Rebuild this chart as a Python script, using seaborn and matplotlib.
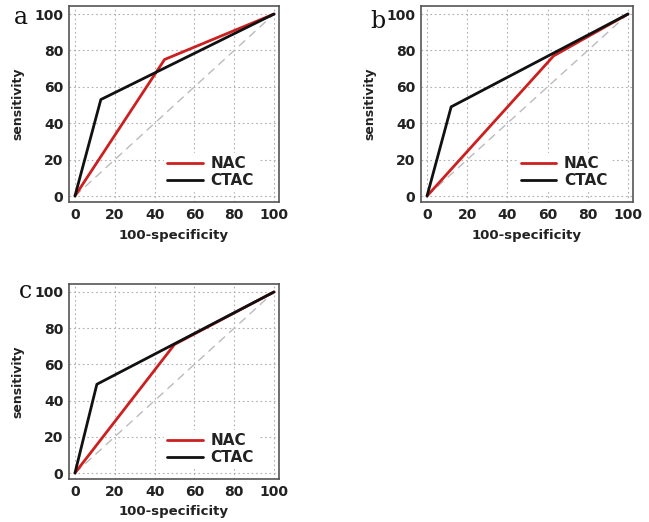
import matplotlib
matplotlib.use("Agg")
import matplotlib.pyplot as plt
import seaborn as sns
import pandas as pd

sns.set_style("white")
plt.rcParams['font.family'] = ['DejaVu Sans']

panels = ["a", "b", "c"]
series = ["NAC", "CTAC"]
# ROC points (100-specificity, sensitivity) per panel
nac_x = {"a": [0, 45, 100], "b": [0, 63, 100], "c": [0, 50, 100]}
nac_y = {"a": [0, 75, 100], "b": [0, 77, 100], "c": [0, 71, 100]}
ctac_x = {"a": [0, 13, 100], "b": [0, 12, 100], "c": [0, 11, 100]}
ctac_y = {"a": [0, 53, 100], "b": [0, 49, 100], "c": [0, 49, 100]}
diag = [0, 100]
ticks = [0, 20, 40, 60, 80, 100]

colors = {"NAC": "#cc2020", "CTAC": "#111111"}

fig = plt.figure(figsize=(6.49, 5.22), dpi=100)
positions = {
    "a": [0.1063, 0.613, 0.3236, 0.3755],
    "b": [0.6487, 0.613, 0.3267, 0.3755],
    "c": [0.1063, 0.0824, 0.3236, 0.3736],
}
label_pos = {"a": (14, 17), "b": (370, 22), "c": (19, 291)}

for p in panels:
    ax = fig.add_axes(positions[p])
    rows = []
    for x, y in zip(nac_x[p], nac_y[p]):
        rows.append({"x": x, "y": y, "series": "NAC", "order": len(rows)})
    for x, y in zip(ctac_x[p], ctac_y[p]):
        rows.append({"x": x, "y": y, "series": "CTAC", "order": len(rows)})
    df = pd.DataFrame(rows)
    ax.plot(diag, diag, color="#bbbbbb", lw=1.0, ls=(0, (6, 4)), zorder=1)
    sns.lineplot(data=df, x="x", y="y", hue="series", hue_order=series,
                 palette=colors, sort=False, estimator=None, lw=2.0, ax=ax, zorder=3)
    ax.set_xlim(-3, 102.5)
    ax.set_ylim(-3.3, 104.4)
    ax.set_xticks(ticks)
    ax.set_yticks(ticks)
    ax.grid(True, ls=(0, (1.5, 2.5)), color="#b0b0b0", lw=0.8, zorder=0)
    ax.tick_params(direction="in", length=3, width=1, colors="#333333",
                   labelsize=10, labelcolor="#222222", pad=4)
    for lab in ax.get_xticklabels() + ax.get_yticklabels():
        lab.set_fontweight("bold")
    for s in ax.spines.values():
        s.set_color("#555555")
        s.set_linewidth(1.2)
    ax.set_xlabel("100-specificity", fontsize=9.5, fontweight="bold", color="#222222", labelpad=5)
    ax.set_ylabel("sensitivity", fontsize=9, fontweight="bold", color="#222222", labelpad=7)
    leg = ax.legend(loc="lower right", bbox_to_anchor=(0.93, 0.015), frameon=True,
                    facecolor="white", edgecolor="white", framealpha=1,
                    prop={"weight": "bold", "size": 11}, handlelength=2.3,
                    handletextpad=0.5, labelspacing=0.15, borderpad=0.2)
    for t in leg.get_texts():
        t.set_color("#222222")
    fx, fy = label_pos[p]
    fig.text(fx / 649, 1 - fy / 522, p, fontsize=17, family="DejaVu Serif",
             ha="left", va="center", color="#111111")

fig.savefig("out.png", dpi=100)
